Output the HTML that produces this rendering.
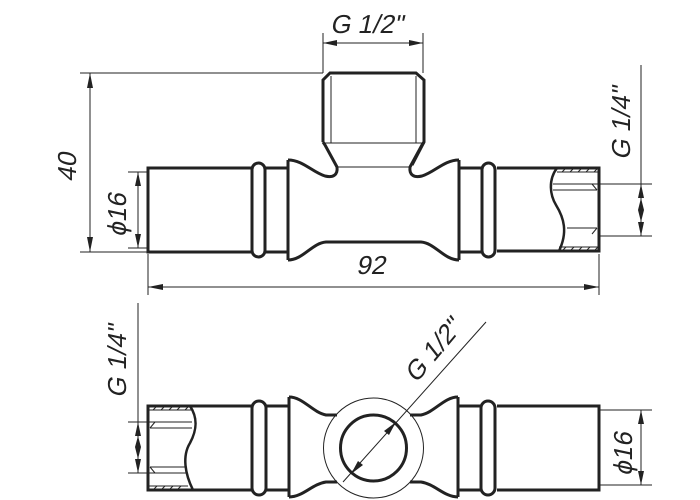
<!DOCTYPE html>
<html><head><meta charset="utf-8"><style>
html,body{margin:0;padding:0;background:#fff;}
svg{display:block}
text{font-family:"Liberation Sans",sans-serif;font-size:26px;fill:#222;}
</style></head><body>
<svg width="700" height="500" viewBox="0 0 700 500" xmlns="http://www.w3.org/2000/svg">
<defs>
<g id="midL" fill="none" stroke="#222" stroke-width="3" stroke-linejoin="round">
  <rect x="252" y="163" width="13" height="94" rx="6.5" fill="#fff"/>
  <line x1="265" y1="168" x2="288" y2="168"/>
  <line x1="265" y1="252" x2="288" y2="252"/>
  <line x1="288" y1="160" x2="288" y2="260"/>
  <path d="M288,160 C303,160 312,172 325,176 C333,178 338,175 337,167 L325,145 L323,142"/>
  <path d="M288,260 C303,260 312,243 326,242 L374,242"/>
</g>
<g id="midB" fill="none" stroke="#222" stroke-width="3" stroke-linejoin="round">
  <rect x="252" y="401" width="14" height="94" rx="7" fill="#fff"/>
  <line x1="266" y1="406" x2="289" y2="406"/>
  <line x1="266" y1="490" x2="289" y2="490"/>
  <line x1="289" y1="397" x2="289" y2="497"/>
  <path d="M289,397 C303,397 312,412 326,415 L337,415"/>
  <path d="M289,497 C303,497 312,484 326,482 L337,482"/>
</g>
</defs>

<!-- TOP VIEW -->
<g fill="none" stroke="#222" stroke-width="3">
  <path d="M252,168 L148,168 L148,252 L252,252"/>
  <path d="M497,168 L599,168 L599,251 L497,251"/>
  <path d="M323,142 L323,80 L330,73 L416,73 L424,80 L424,142 L412,165"/>
  <path d="M557,168 C548,180 550,195 556,205 C564,218 568,232 559,251" stroke-width="2.5"/>
</g>
<use href="#midL"/>
<use href="#midL" transform="translate(747,0) scale(-1,1)"/>
<g stroke="#222" stroke-width="1" fill="none">
  <line x1="331" y1="76" x2="331" y2="143"/>
  <line x1="416" y1="76" x2="416" y2="143"/>
  <line x1="325" y1="143" x2="422" y2="143"/>
  <line x1="337" y1="167" x2="410" y2="167"/>
  <line x1="553" y1="184" x2="652" y2="184"/>
  <line x1="553" y1="190" x2="597" y2="190"/>
  <line x1="567" y1="228" x2="597" y2="228"/>
  <line x1="599" y1="236" x2="652" y2="236"/>
  <line x1="592" y1="184" x2="597" y2="190"/>
  <line x1="592" y1="234" x2="597" y2="228"/>
  <path d="M562,172 L566,168 M570,172 L574,168 M578,172 L582,168 M586,172 L590,168 M594,172 L598,168 M562,251 L566,247 M570,251 L574,247 M578,251 L582,247 M586,251 L590,247 M594,251 L598,247"/>
  <line x1="557" y1="172" x2="598" y2="172"/>
  <line x1="559" y1="247" x2="598" y2="247"/>
  <line x1="80" y1="73" x2="323" y2="73"/>
  <line x1="80" y1="252" x2="148" y2="252"/>
  <line x1="90" y1="73" x2="90" y2="252"/>
  <line x1="128" y1="172" x2="148" y2="172"/>
  <line x1="128" y1="248" x2="148" y2="248"/>
  <line x1="138" y1="172" x2="138" y2="248"/>
  <line x1="323" y1="33" x2="323" y2="73"/>
  <line x1="423" y1="33" x2="423" y2="73"/>
  <line x1="323" y1="43" x2="423" y2="43"/>
  <line x1="148" y1="254" x2="148" y2="295"/>
  <line x1="599" y1="254" x2="599" y2="295"/>
  <line x1="148" y1="287" x2="599" y2="287"/>
  <line x1="641" y1="65" x2="641" y2="236"/>
</g>
<g fill="#222">
  <path d="M90,73 L87,88 L93,88Z M90,252 L87,237 L93,237Z"/>
  <path d="M138,172 L135,186 L141,186Z M138,248 L135,234 L141,234Z"/>
  <path d="M323,43 L337,40 L337,46Z M423,43 L409,40 L409,46Z"/>
  <path d="M148,287 L163,284 L163,290Z M599,287 L584,284 L584,290Z"/>
  <path d="M641,184 L638,198 L644,198Z M641,236 L638,222 L644,222Z M641,198 L638,210 L644,210Z M641,222 L638,210 L644,210Z"/>
</g>
<text transform="translate(330,33) skewX(-12)">G 1/2"</text>
<text transform="translate(356,274) skewX(-12)">92</text>
<text transform="translate(126,237) rotate(-90) skewX(-12)">ϕ16</text>
<text transform="translate(76,182) rotate(-90) skewX(-12)">40</text>
<text transform="translate(630,160) rotate(-90) skewX(-12)">G 1/4"</text>

<!-- BOTTOM VIEW -->
<g fill="none" stroke="#222" stroke-width="3">
  <path d="M252,406 L148,406 L148,490 L252,490"/>
  <path d="M497,406 L599,406 L599,490 L497,490"/>
  <path d="M190,406 C198,418 197,430 190,443 C182,456 185,474 193,490" stroke-width="2.5"/>
  <circle cx="373.5" cy="448" r="33"/>
</g>
<use href="#midB"/>
<use href="#midB" transform="translate(747,0) scale(-1,1)"/>
<g stroke="#222" stroke-width="1" fill="none">
  <circle cx="373.5" cy="448" r="50"/>
  <path d="M153,410 L157,406 M161,410 L165,406 M169,410 L173,406 M177,410 L181,406 M185,410 L189,406 M153,490 L157,486 M161,490 L165,486 M169,490 L173,486 M177,490 L181,486"/>
  <line x1="149" y1="410" x2="191" y2="410"/>
  <line x1="149" y1="486" x2="188" y2="486"/>
  <line x1="128" y1="422" x2="192" y2="422"/>
  <line x1="150" y1="428" x2="192" y2="428"/>
  <line x1="150" y1="467" x2="186" y2="467"/>
  <line x1="128" y1="473" x2="186" y2="473"/>
  <line x1="150" y1="428" x2="155" y2="422"/>
  <line x1="150" y1="467" x2="155" y2="473"/>
  <line x1="138" y1="303" x2="138" y2="473"/>
  <line x1="599" y1="410" x2="652" y2="410"/>
  <line x1="599" y1="485" x2="652" y2="485"/>
  <line x1="641" y1="410" x2="641" y2="485"/>
  <line x1="486" y1="322" x2="343" y2="482"/>
</g>
<g fill="#222">
  <path d="M138,422 L135,436 L141,436Z M138,473 L135,459 L141,459Z M138,436 L135,447 L141,447Z M138,459 L135,447 L141,447Z"/>
  <path d="M641,410 L638,424 L644,424Z M641,485 L638,471 L644,471Z"/>
  <path d="M396,422 L384,431 L389,435Z M351,474 L363,465 L358,461Z"/>
</g>
<text transform="translate(126,398) rotate(-90) skewX(-12)">G 1/4"</text>
<text transform="translate(632,476) rotate(-90) skewX(-12)">ϕ16</text>
<text transform="translate(416,384) rotate(-50) skewX(-12)">G 1/2"</text>
</svg>
</body></html>
